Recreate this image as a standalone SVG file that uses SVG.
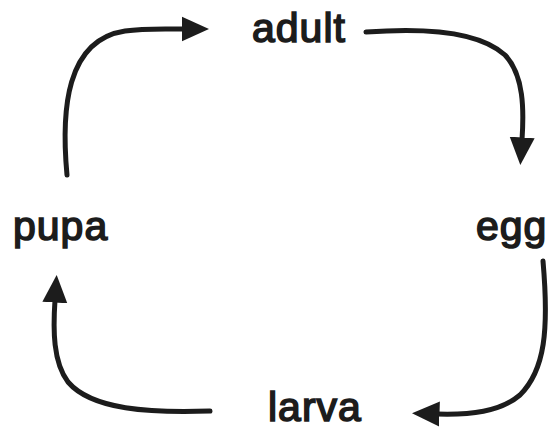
<svg xmlns="http://www.w3.org/2000/svg" width="552" height="432" viewBox="0 0 552 432">
<defs>
<style>
.lbl{font-family:"Liberation Sans",Arial,sans-serif;font-size:41px;fill:#1c1c1c;stroke:#1c1c1c;stroke-width:1.6;letter-spacing:1px}
.con{fill:none;stroke:#1c1c1c;stroke-width:5;stroke-linecap:round}
</style>
<marker id="ah" markerUnits="userSpaceOnUse" markerWidth="30" markerHeight="30" viewBox="0 -12 24 24" refX="2" refY="0" orient="auto">
<path d="M0,-10 L22,0 L0,10 z" fill="#1c1c1c"/>
</marker>
</defs>
<rect width="552" height="432" fill="#ffffff"/>
<g id="connectors">
<path class="con" marker-end="url(#ah)" d="M67,175 C61,110 66,40 125,31 C145,28 165,29 184,29"/>
<path class="con" marker-end="url(#ah)" d="M366,32 C420,28 478,30 505,55 C524,75 524,110 522,140"/>
<path class="con" marker-end="url(#ah)" d="M543,261 C549,330 545,370 520,395 C500,412 470,415 437,414"/>
<path class="con" marker-end="url(#ah)" d="M210,411 C150,413 92,410 68,382 C53,362 53,330 55,300"/>
</g>
<g id="adult"><text class="lbl" x="252" y="42">adult</text></g>
<g id="egg"><text class="lbl" x="476" y="240">egg</text></g>
<g id="larva"><text class="lbl" x="268" y="421">larva</text></g>
<g id="pupa"><text class="lbl" x="13" y="240">pupa</text></g>
</svg>
